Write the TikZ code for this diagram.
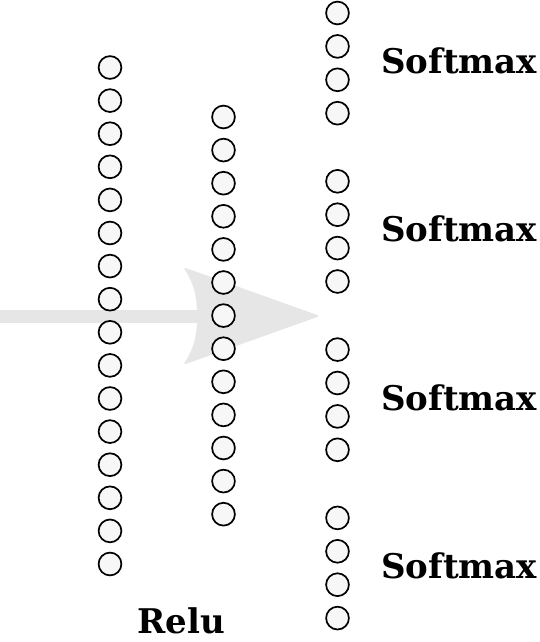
\documentclass[tikz,border=0pt]{standalone}
\usepackage{fontspec}
\setmainfont{DejaVu Serif}
\definecolor{arrowgray}{HTML}{E6E6E6}
\definecolor{cellfill}{HTML}{F7F7F7}
\tikzset{
  cell/.style={circle, draw=black, line width=1.7pt, fill=cellfill, minimum size=22.8pt, inner sep=0pt},
  lbl/.style={font=\fontsize{34}{37}\selectfont\bfseries, inner sep=0pt, anchor=base west},
}
\begin{document}
\begin{tikzpicture}[x=1pt,y=-1pt]
\useasboundingbox (0,0) rectangle (540,642);
% big arrow
\fill[arrowgray] (0,310) rectangle (200,322.5);
\fill[arrowgray, rounded corners=3pt] (183,267) .. controls (195,285) and (197,300) .. (197,316)
   .. controls (197,332) and (195,347) .. (183,365) -- (320,316) -- cycle;
% column 1
\foreach \i in {0,...,15} {
  \node[cell] (a\i) at (110, 67.5+\i*33.1) {};
}
% column 2
\foreach \i in {0,...,12} {
  \node[cell] (b\i) at (223.5, 117+\i*33.1) {};
}
% column 3
\foreach \g in {0,...,3} {
  \foreach \j in {0,...,3} {
    \node[cell] (c\g\j) at (337.5, 13+\g*168.3+\j*33.4) {};
  }
  \node[lbl] (s\g) at (381, 13+\g*168.3+50+10.5) {Softmax};
}
\node[lbl, anchor=base] (relu) at (181, 633) {Relu};
\end{tikzpicture}
\end{document}
